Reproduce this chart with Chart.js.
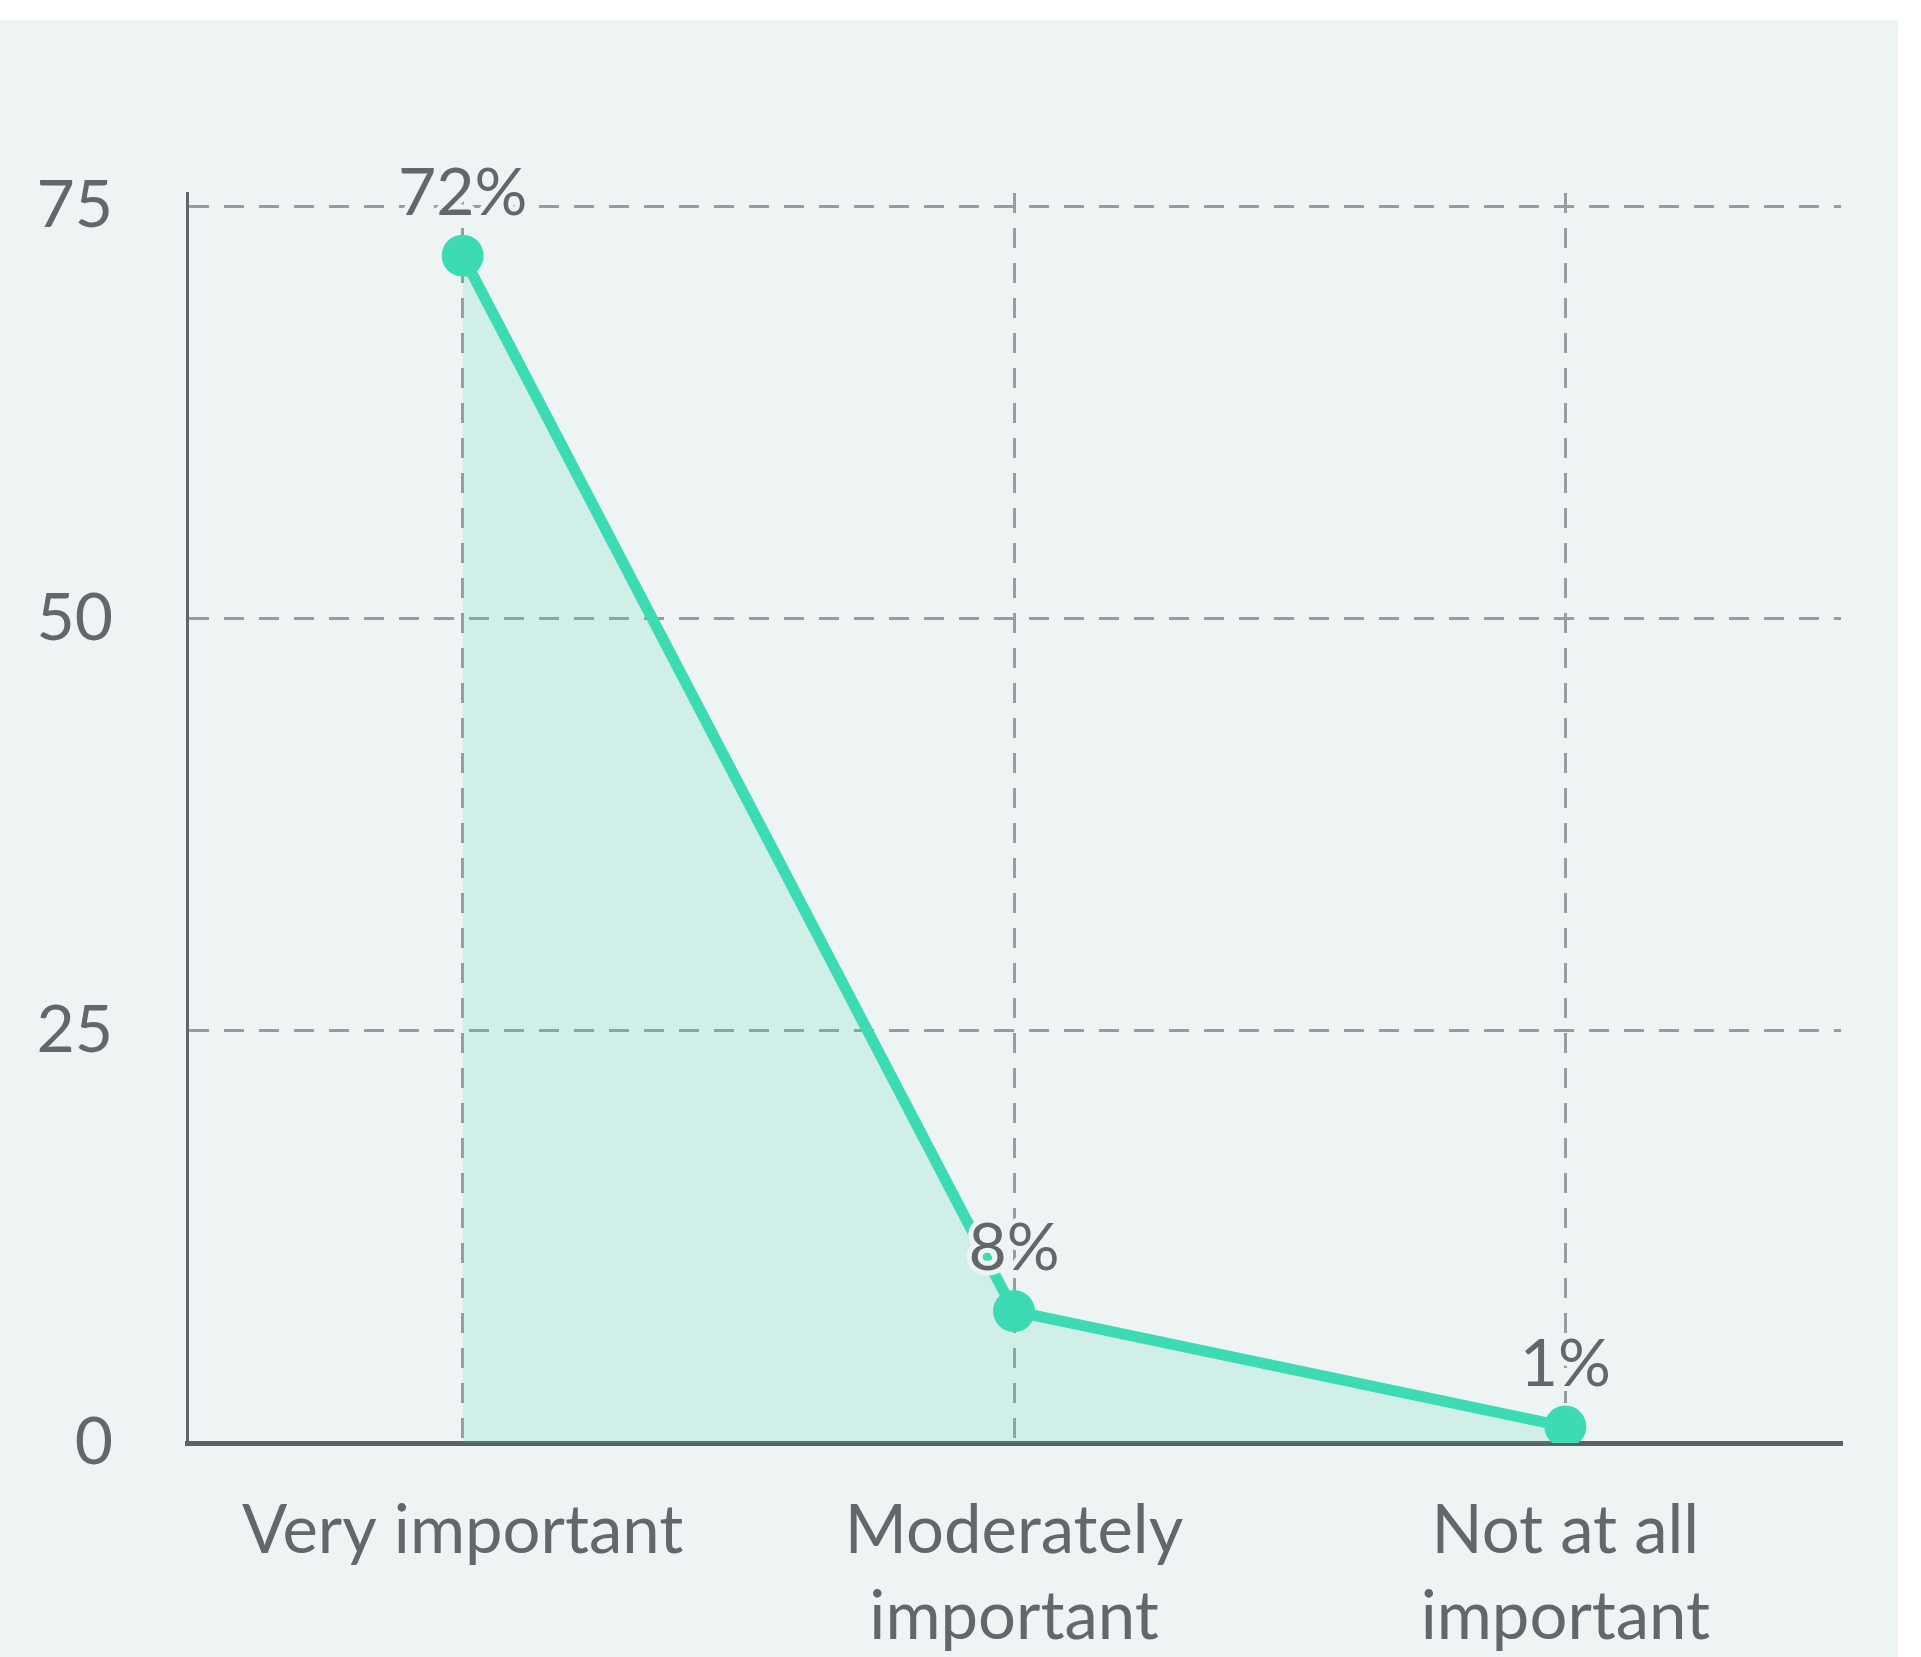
<!DOCTYPE html>
<html>
<head>
<meta charset="utf-8">
<script src="https://cdn.jsdelivr.net/npm/chart.js@4"></script>
<style>
html, body { margin: 0; padding: 0; background: #fff; }
#panel { position: absolute; left: 0; top: 20px; width: 1898px; height: 1637px; background: #eef3f3; }
</style>
</head>
<body>
<div id="panel"><canvas id="myChart"></canvas></div>
<script>
var categories = ['Very important', ['Moderately', 'important'], ['Not at all', 'important']];
var shares = [72, 8, 1];
var yTicks = [0, 25, 50, 75];

// draws the "72%" style labels above each point
var pointLabels = {
  id: 'pointLabels',
  afterDatasetsDraw: function(chart) {
    var ctx = chart.ctx;
    var meta = chart.getDatasetMeta(0);
    ctx.save();
    ctx.font = '66px Lato';
    ctx.textAlign = 'center';
    ctx.textBaseline = 'middle';
    ctx.lineJoin = 'round';
    meta.data.forEach(function(pt, i) {
      var txt = shares[i] + '%';
      var y = pt.y - 62;
      ctx.strokeStyle = '#eef3f3';
      ctx.lineWidth = 10;
      ctx.strokeText(txt, pt.x, y);
      ctx.fillStyle = '#63676b';
      ctx.fillText(txt, pt.x, y);
    });
    ctx.restore();
  }
};

var ctx = document.getElementById('myChart').getContext('2d');
var chart = new Chart(ctx, {
  type: 'line',
  data: {
    labels: categories,
    datasets: [{
      data: shares,
      borderColor: '#3ddbb4',
      backgroundColor: 'rgba(61, 219, 180, 0.16)',
      borderWidth: 11,
      fill: 'origin',
      tension: 0,
      pointRadius: 21,
      pointHoverRadius: 21,
      pointBorderWidth: 0,
      pointBackgroundColor: '#3ddbb4'
    }]
  },
  options: {
    responsive: true,
    maintainAspectRatio: false,
    devicePixelRatio: 1,
    animation: false,
    layout: {
      padding: { left: 0, right: 57, top: 173, bottom: 0 }
    },
    plugins: {
      legend: { display: false },
      tooltip: { enabled: false }
    },
    scales: {
      x: {
        offset: true,
        afterFit: function(axis) { axis.height = 214; },
        grid: {
          offset: false,
          drawTicks: false,
          color: '#979ca1',
          lineWidth: 3
        },
        border: { display: true, color: '#5b6166', width: 5, dash: [20, 15] },
        ticks: {
          padding: 46,
          color: '#63676b',
          font: { family: 'Lato', size: 67, lineHeight: 1.28 },
          maxRotation: 0
        }
      },
      y: {
        min: 0,
        max: 75.8,
        afterFit: function(axis) { axis.width = 187; },
        afterBuildTicks: function(axis) {
          axis.ticks = yTicks.map(function(v) { return { value: v }; });
        },
        grid: {
          drawTicks: false,
          color: '#979ca1',
          lineWidth: 3
        },
        border: { display: true, color: '#5f6468', width: 3, dash: [20, 15] },
        ticks: {
          padding: 74,
          color: '#63676b',
          font: { family: 'Lato', size: 66 }
        }
      }
    }
  },
  plugins: [pointLabels]
});
</script>
</body>
</html>
